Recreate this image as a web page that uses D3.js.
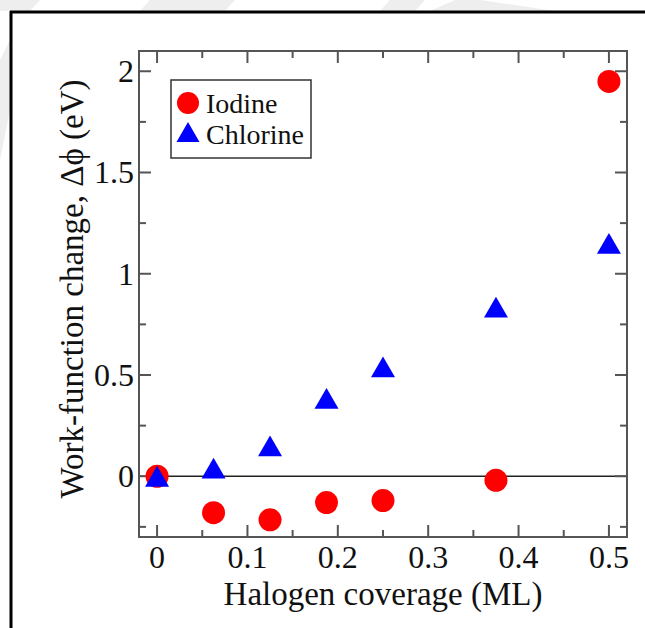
<!DOCTYPE html>
<html>
<head>
<meta charset="utf-8">
<script src="https://cdn.jsdelivr.net/npm/d3@7"></script>
<style>
  body { margin: 0; background: #fff; }
  text { font-family: "Liberation Serif", "Times New Roman", serif; fill: #111; }
</style>
</head>
<body>
<div id="chart"></div>
<script>
// DATA
var coverage = [0, 0.0625, 0.125, 0.1875, 0.25, 0.375, 0.5];
var iodine = [0, -0.18, -0.215, -0.13, -0.12, -0.02, 1.95];
var chlorine = [0, 0.04, 0.15, 0.385, 0.54, 0.835, 1.15];
var xTicks = [0, 0.1, 0.2, 0.3, 0.4, 0.5];
var xMinor = [0.05, 0.15, 0.25, 0.35, 0.45];
var yTicks = [0, 0.5, 1, 1.5, 2];
var yMinor = [-0.25, 0.25, 0.75, 1.25, 1.75];
var seriesNames = ["Iodine", "Chlorine"];

var W = 645, H = 628;
var plot = { left: 139, right: 627, top: 51, bottom: 537 };

var svg = d3.select("#chart").append("svg")
    .attr("width", W)
    .attr("height", H);

svg.append("rect").attr("width", W).attr("height", H).attr("fill", "#fff");

// faint watermark bits outside the frame
var wm = [
    [[0, 0], [40, 0], [30, 11], [0, 11]],
    [[150, 0], [235, 0], [225, 11], [140, 11]],
    [[390, 0], [425, 0], [415, 11], [380, 11]],
    [[455, 0], [480, 0], [555, 11], [430, 11]],
    [[0, 60], [10, 40], [10, 110], [0, 160]]
];
svg.selectAll(".wm").data(wm).enter().append("path")
    .attr("class", "wm")
    .attr("d", function(d) { return "M" + d.join("L") + "Z"; })
    .attr("fill", "#eeeeee");

// page frame
svg.append("line").attr("x1", 11).attr("x2", 11).attr("y1", 11).attr("y2", H)
    .attr("stroke", "#000").attr("stroke-width", 3);
svg.append("line").attr("x1", 10).attr("x2", W).attr("y1", 12).attr("y2", 12)
    .attr("stroke", "#000").attr("stroke-width", 3);

var x = d3.scaleLinear().domain([-0.02, 0.52]).range([plot.left, plot.right]);
var y = d3.scaleLinear().domain([-0.3, 2.1]).range([plot.bottom, plot.top]);

var axisColor = "#555";
var g = svg.append("g");

// zero line
g.append("line")
    .attr("x1", plot.left).attr("x2", plot.right)
    .attr("y1", y(0)).attr("y2", y(0))
    .attr("stroke", "#222").attr("stroke-width", 1.5);

// ticks pointing inward on all four sides
function tickLines(vals, len, isX) {
    vals.forEach(function(v) {
        if (isX) {
            g.append("line").attr("x1", x(v)).attr("x2", x(v))
                .attr("y1", plot.bottom).attr("y2", plot.bottom - len)
                .attr("stroke", axisColor).attr("stroke-width", 2);
            g.append("line").attr("x1", x(v)).attr("x2", x(v))
                .attr("y1", plot.top).attr("y2", plot.top + len)
                .attr("stroke", axisColor).attr("stroke-width", 2);
        } else {
            g.append("line").attr("y1", y(v)).attr("y2", y(v))
                .attr("x1", plot.left).attr("x2", plot.left + len)
                .attr("stroke", axisColor).attr("stroke-width", 2);
            g.append("line").attr("y1", y(v)).attr("y2", y(v))
                .attr("x1", plot.right).attr("x2", plot.right - len)
                .attr("stroke", axisColor).attr("stroke-width", 2);
        }
    });
}
tickLines(xTicks, 12, true);
tickLines(xMinor, 7, true);
tickLines(yTicks, 12, false);
tickLines(yMinor, 7, false);

g.append("rect")
    .attr("x", plot.left).attr("y", plot.top)
    .attr("width", plot.right - plot.left).attr("height", plot.bottom - plot.top)
    .attr("fill", "none").attr("stroke", axisColor).attr("stroke-width", 2);

// tick labels
g.selectAll(".xl").data(xTicks).enter().append("text")
    .attr("class", "xl")
    .attr("x", function(d) { return x(d); })
    .attr("y", 568)
    .attr("text-anchor", "middle")
    .style("font-size", "32px")
    .text(function(d) { return String(d); });

g.selectAll(".yl").data(yTicks).enter().append("text")
    .attr("class", "yl")
    .attr("x", 134)
    .attr("y", function(d) { return y(d); })
    .attr("dy", "0.34em")
    .attr("text-anchor", "end")
    .style("font-size", "32px")
    .text(function(d) { return String(d); });

// axis titles
svg.append("text")
    .attr("x", (plot.left + plot.right) / 2)
    .attr("y", 605)
    .attr("text-anchor", "middle")
    .style("font-size", "33px")
    .text("Halogen coverage (ML)");

svg.append("text")
    .attr("transform", "translate(83," + 289 + ") rotate(-90)")
    .attr("text-anchor", "middle")
    .style("font-size", "33px")
    .text("Work-function change, \u0394\u03D5 (eV)");

// markers
function triPath(s) {
    var h = s * Math.sqrt(3) / 2;
    return "M0," + (-h / 2) + "L" + (s / 2) + "," + (h / 2) + "L" + (-s / 2) + "," + (h / 2) + "Z";
}

var marks = svg.append("g");
marks.selectAll(".iod").data(coverage).enter().append("circle")
    .attr("class", "iod")
    .attr("cx", function(d) { return x(d); })
    .attr("cy", function(d, i) { return y(iodine[i]); })
    .attr("r", 11.5)
    .attr("fill", "#ff0000");

marks.selectAll(".chl").data(coverage).enter().append("path")
    .attr("class", "chl")
    .attr("transform", function(d, i) { return "translate(" + x(d) + "," + y(chlorine[i]) + ")"; })
    .attr("d", triPath(24))
    .attr("fill", "#0000ff");

// legend
var leg = svg.append("g");
leg.append("rect")
    .attr("x", 171).attr("y", 80).attr("width", 140).attr("height", 78)
    .attr("fill", "#fff").attr("stroke", "#333").attr("stroke-width", 1.5);
leg.append("circle").attr("cx", 188).attr("cy", 103).attr("r", 11).attr("fill", "#ff0000");
leg.append("path").attr("transform", "translate(188,132)").attr("d", triPath(23)).attr("fill", "#0000ff");
leg.selectAll(".lt").data(seriesNames).enter().append("text")
    .attr("class", "lt")
    .attr("x", 206)
    .attr("y", function(d, i) { return 113 + i * 31; })
    .style("font-size", "28px")
    .text(function(d) { return d; });
</script>
</body>
</html>
